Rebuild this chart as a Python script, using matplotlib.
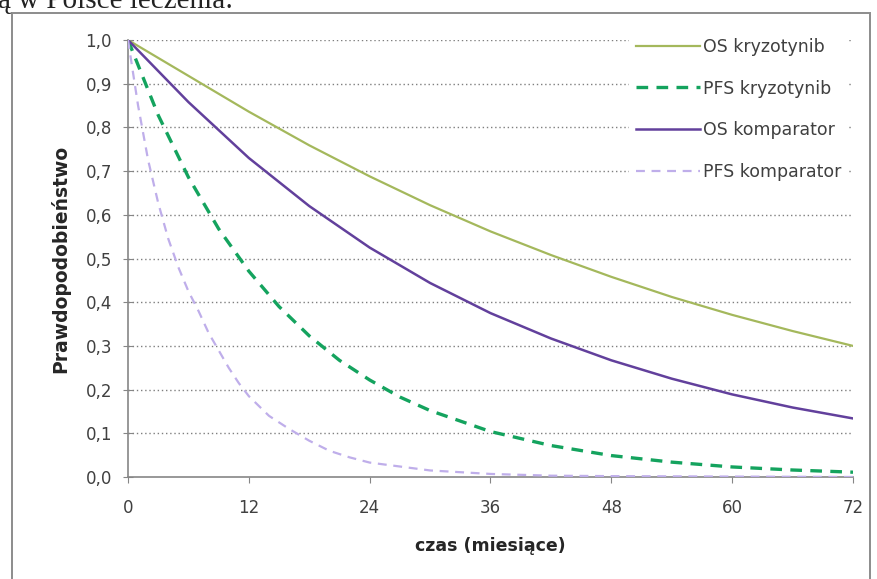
import matplotlib
matplotlib.use('Agg')
import matplotlib.pyplot as plt
from matplotlib.patches import Rectangle
from matplotlib.ticker import FuncFormatter

# --- data ---
months_os_kryz = [0, 6, 12, 18, 24, 30, 36, 42, 48, 54, 60, 66, 72]
os_kryz = [1.0, 0.918, 0.836, 0.759, 0.688, 0.622, 0.562, 0.508, 0.458, 0.412, 0.371, 0.334, 0.300]

months_pfs_kryz = [0, 3, 6, 9, 12, 15, 18, 21, 24, 27, 30, 36, 42, 48, 54, 60, 66, 72]
pfs_kryz = [1.0, 0.828, 0.686, 0.568, 0.471, 0.390, 0.323, 0.267, 0.222, 0.183, 0.152,
            0.104, 0.072, 0.049, 0.034, 0.023, 0.016, 0.011]

months_os_komp = [0, 6, 12, 18, 24, 30, 36, 42, 48, 54, 60, 66, 72]
os_komp = [1.0, 0.858, 0.730, 0.620, 0.525, 0.444, 0.375, 0.317, 0.267, 0.225, 0.189, 0.159, 0.134]

months_pfs_komp = [0, 1, 2, 3, 4, 5, 6, 7, 8, 9, 10, 11, 12, 14, 16, 18, 20, 22, 24,
                   30, 36, 42, 48, 60, 72]
pfs_komp = [1.0, 0.85, 0.725, 0.627, 0.545, 0.48, 0.425, 0.38, 0.33, 0.29, 0.25, 0.215,
            0.185, 0.14, 0.11, 0.083, 0.06, 0.045, 0.033, 0.015, 0.007, 0.003, 0.002,
            0.001, 0.0]

labels = ['OS kryzotynib', 'PFS kryzotynib', 'OS komparator', 'PFS komparator']
x_ticks = [0, 12, 24, 36, 48, 60, 72]
y_ticks = [0.0, 0.1, 0.2, 0.3, 0.4, 0.5, 0.6, 0.7, 0.8, 0.9, 1.0]

plt.rcParams['font.family'] = ['DejaVu Sans']

W, H = 878, 579
fig = plt.figure(figsize=(W / 100, H / 100), dpi=100, facecolor='white')

# chart frame (Excel chart area border)
fig.patches.append(Rectangle((12 / W, -0.02), (870 - 12) / W, 1.02 - 13 / H,
                             transform=fig.transFigure, fill=False,
                             edgecolor='#8c8c8c', linewidth=1.4))

# cropped line of document text above the chart
fig.text(-2 / W, 1 - 8 / H, 'ą w Polsce leczenia:', family='Liberation Serif',
         fontsize=21, color='#222222', ha='left', va='baseline')

ax = fig.add_axes([128 / W, (H - 477) / H, (853 - 128) / W, (477 - 40) / H])
ax.set_xlim(0, 72)
ax.set_ylim(0, 1.0)

for y in y_ticks[1:]:
    ax.axhline(y, color='#7f7f7f', linestyle=(0, (1, 2)), linewidth=1.0, zorder=1)

ax.plot(months_os_kryz, os_kryz, color='#a4b85c', linewidth=1.6, label=labels[0], zorder=3)
ax.plot(months_pfs_kryz, pfs_kryz, color='#14a35e', linewidth=2.4,
        linestyle=(0, (3.5, 2.5)), label=labels[1], zorder=3)
ax.plot(months_os_komp, os_komp, color='#62409c', linewidth=1.8, label=labels[2], zorder=3)
ax.plot(months_pfs_komp, pfs_komp, color='#bfaeea', linewidth=1.6,
        linestyle=(0, (4, 3)), label=labels[3], zorder=3)

for side in ['top', 'right']:
    ax.spines[side].set_visible(False)
for side in ['left', 'bottom']:
    ax.spines[side].set_color('#868686')
    ax.spines[side].set_linewidth(1.2)
    ax.spines[side].set_zorder(2)

ax.set_xticks(x_ticks)
ax.set_yticks(y_ticks)
ax.yaxis.set_major_formatter(FuncFormatter(lambda v, p: f'{v:.1f}'.replace('.', ',')))
ax.tick_params(axis='y', direction='inout', length=7, color='#868686', pad=8,
               labelsize=12, labelcolor='#404040')
ax.tick_params(axis='x', direction='out', length=4, color='#868686', pad=12,
               labelsize=12, labelcolor='#404040')

ax.set_ylabel('Prawdopodobieństwo', fontsize=13.5, fontweight='bold', color='#262626')
ax.yaxis.set_label_coords(-0.079, 0.5)
ax.set_xlabel('czas (miesiące)', fontsize=12.5, fontweight='bold', color='#262626')
ax.xaxis.set_label_coords(0.5, -0.137)

leg = ax.legend(loc='upper left', bbox_to_anchor=(629 / W, (H - 31) / H),
                bbox_transform=fig.transFigure, frameon=True, fontsize=12.5,
                handlelength=3.7, handletextpad=0.15, labelspacing=1.36,
                borderpad=0.4, borderaxespad=0)
leg.get_frame().set_facecolor('white')
leg.get_frame().set_edgecolor('none')
leg.get_frame().set_alpha(1.0)
for t in leg.get_texts():
    t.set_color('#404040')

fig.savefig('out.png', dpi=100, facecolor='white')
